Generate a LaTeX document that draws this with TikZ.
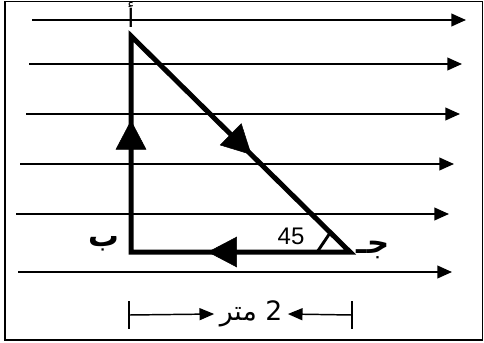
\documentclass[tikz,border=0pt]{standalone}
\usepackage{fontspec}
\setmainfont{Liberation Sans}
\newfontfamily\arabicfont[Script=Arabic]{DejaVu Sans}
\TeXXeTstate=1
\usetikzlibrary{arrows.meta,decorations.markings,calc}

\begin{document}
\begin{tikzpicture}[x=0.75pt,y=-0.75pt,
  every node/.style={inner sep=0pt},
  field/.style={line width=1.4pt,-{Triangle[length=11pt,width=9.5pt]}},
  side/.style={line width=3.75pt,line join=miter},
  bigtip/.style={postaction={decorate},decoration={markings,
    mark=at position #1 with {\arrow{Triangle[length=22pt,width=23pt]}}}},
  letter/.style={font=\arabicfont\bfseries\fontsize{23}{23}\selectfont},
  numfont/.style={font=\fontsize{18}{18}\selectfont}]
\useasboundingbox (0,0) rectangle (484,342);
\draw[line width=1.1pt] (5,1.5) rectangle (482.5,340);
% field lines
\foreach \y/\xa/\xb in {20/32/466, 64/29/462, 114/26/460, 164/20/454, 214/16/449, 272/18/452}
  \draw[field] (\xa,\y) -- (\xb,\y);
% the loop
\coordinate (A) at (131,36);
\coordinate (B) at (131,252);
\coordinate (C) at (350,252);
\draw[side] (A) -- (C) -- (B) -- cycle;
\path[bigtip=0.61] (B) -- (A);
\path[bigtip=0.55] (A) -- (C);
\path[bigtip=0.65] (C) -- (B);
\draw[line width=2.2pt] ($(C)!0.15!(B)$) -- ($(C)!0.09!(A)$);
\node[numfont] (ang) at (291,236) {45};
\node[font=\arabicfont\fontsize{19}{19}\selectfont] (la) at (131,15) {\beginR أ\endR};
\node[letter] (lb) at (104,244) {\beginR ب\endR};
\node[letter] (lc) at (373,250) {\beginR جـ\endR};
% length
\coordinate (dl) at (129,315);
\coordinate (dr) at (352,315);
\node[font=\arabicfont\fontsize{20}{20}\selectfont,inner xsep=4pt] (len) at (251,314) {\beginR 2 متر\endR};
\draw[line width=1.1pt] ($(dl)+(0,-14)$) -- ($(dl)+(0,14)$);
\draw[line width=1.1pt] ($(dr)+(0,-14)$) -- ($(dr)+(0,14)$);
\draw[line width=1.1pt,-{Triangle[length=11pt,width=9pt]}] (dl) -- (len.west);
\draw[line width=1.1pt,-{Triangle[length=11pt,width=9pt]}] (dr) -- (len.east);
\end{tikzpicture}
\end{document}
